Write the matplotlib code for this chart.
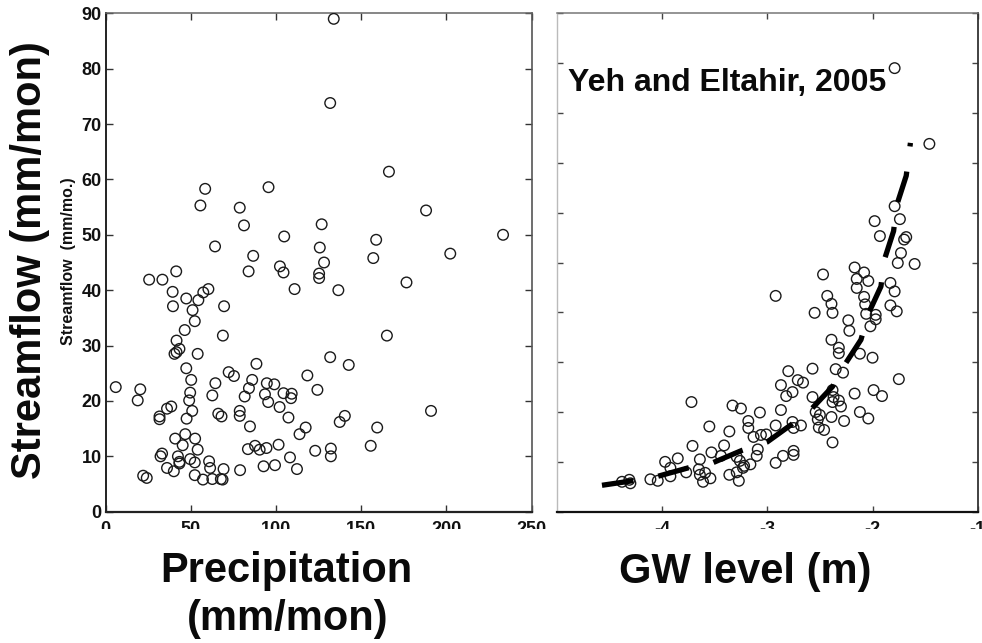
import matplotlib
matplotlib.use("Agg")
import matplotlib.pyplot as plt
from matplotlib.transforms import Bbox, TransformedBbox

# ---- data -------------------------------------------------------------
precip = [133.9, 131.8, 166.3, 58.4, 95.6, 55.6, 78.7, 188.1, 81.2, 126.8,
          233.3, 158.8, 104.8, 64.2, 125.7, 202.3, 86.6, 157.1, 128.2, 102.3,
          104.4, 83.9, 41.4, 125.3, 125.3, 25.5, 33.3, 176.6, 110.9, 136.6,
          39.3, 60.3, 57.3, 47.3, 54.4, 39.5, 69.5, 51.0, 52.3, 46.4,
          165.1, 68.8, 41.6, 43.3, 41.6, 40.4, 54.0, 131.8, 88.5, 142.7,
          47.3, 72.2, 75.3, 118.4, 50.2, 86.0, 64.4, 94.6, 99.0, 84.1,
          5.9, 20.3, 124.3, 49.6, 104.4, 109.2, 93.5, 62.6, 81.6, 108.8,
          49.0, 18.8, 95.4, 102.1, 38.5, 36.0, 191.0, 50.8, 78.7, 66.1,
          68.0, 31.6, 31.6, 78.7, 107.3, 140.4, 47.5, 137.4, 117.4, 159.4,
          84.7, 113.8, 46.7, 40.8, 52.5, 45.2, 101.5, 155.6, 87.7, 94.4,
          90.4, 54.0, 83.5, 132.2, 123.0, 33.1, 32.2, 42.4, 132.2, 108.2,
          49.6, 60.7, 43.3, 52.3, 99.4, 92.7, 61.3, 36.0, 69.2, 78.9,
          112.3, 40.0, 22.0, 24.1, 52.3, 57.1, 62.6, 67.6, 68.6, 43.3]
flow_p = [89.0, 73.8, 61.4, 58.3, 58.6, 55.3, 54.9, 54.4, 51.7, 51.9,
          50.0, 49.1, 49.7, 47.9, 47.7, 46.6, 46.2, 45.8, 45.0, 44.3,
          43.2, 43.4, 43.4, 43.0, 42.2, 41.9, 41.9, 41.4, 40.2, 40.0,
          39.7, 40.2, 39.6, 38.5, 38.2, 37.1, 37.1, 36.4, 34.4, 32.8,
          31.8, 31.8, 30.9, 29.4, 28.8, 28.5, 28.5, 27.9, 26.7, 26.5,
          25.9, 25.2, 24.5, 24.6, 23.8, 23.8, 23.2, 23.2, 23.0, 22.3,
          22.5, 22.1, 22.0, 21.5, 21.4, 21.3, 21.2, 21.0, 20.8, 20.5,
          20.1, 20.1, 19.8, 18.9, 19.0, 18.6, 18.2, 18.2, 18.2, 17.7,
          17.2, 17.2, 16.7, 17.3, 17.0, 17.3, 16.8, 16.2, 15.2, 15.2,
          15.4, 14.0, 14.0, 13.2, 13.2, 12.0, 12.1, 11.9, 11.9, 11.5,
          11.2, 11.2, 11.3, 11.4, 11.0, 10.5, 10.0, 10.0, 10.0, 9.8,
          9.5, 9.1, 9.0, 8.9, 8.4, 8.2, 7.9, 7.9, 7.7, 7.5,
          7.7, 7.3, 6.5, 6.1, 6.6, 5.8, 5.9, 5.9, 5.8, 8.7]

gw_level = [-1.79, -1.46, -1.79, -1.98, -1.74, -1.93, -1.68, -1.70, -1.73, -1.76,
            -1.60, -2.17, -2.47, -2.08, -2.15, -2.04, -2.15, -1.83, -1.79, -2.92,
            -2.43, -2.08, -2.39, -2.07, -1.83, -2.55, -2.38, -1.77, -2.06, -1.97,
            -1.97, -2.23, -2.02, -2.22, -2.39, -2.32, -2.12, -2.32, -2.00, -2.57,
            -2.35, -2.28, -2.80, -2.71, -2.66, -1.75, -2.87, -2.76, -2.82, -1.99,
            -1.91, -2.17, -2.57, -3.72, -2.38, -2.37, -2.32, -2.38, -2.30, -3.33,
            -3.25, -3.07, -2.87, -2.12, -2.04, -2.27, -2.39, -2.50, -2.54, -2.52,
            -3.18, -2.76, -2.68, -2.75, -2.51, -2.46, -3.18, -3.55, -3.36, -2.92,
            -3.06, -3.13, -3.01, -2.38, -3.71, -3.41, -3.53, -3.09, -3.10, -3.29,
            -3.44, -2.92, -2.85, -2.75, -2.75, -3.16, -3.22, -3.26, -3.64, -3.85,
            -3.97, -3.92, -3.92, -3.77, -3.65, -3.64, -3.59, -3.54, -3.61, -3.36,
            -3.29, -3.27, -3.23, -4.04, -4.11, -4.38, -4.30, -4.31]
flow_gw = [89.0, 73.8, 61.3, 58.3, 58.7, 55.3, 55.1, 54.6, 51.9, 49.9,
           49.7, 49.0, 47.6, 48.0, 46.7, 46.3, 44.9, 45.9, 44.2, 43.3,
           43.3, 43.1, 41.7, 41.6, 41.4, 39.9, 39.9, 40.2, 39.7, 39.5,
           38.6, 38.4, 37.2, 36.3, 34.5, 32.9, 31.7, 31.8, 30.9, 28.7,
           28.6, 27.9, 28.2, 26.4, 25.9, 26.6, 25.4, 24.0, 23.2, 24.4,
           23.2, 23.7, 23.0, 22.0, 24.4, 23.0, 22.3, 22.0, 21.1, 21.3,
           20.7, 19.9, 20.4, 20.0, 18.7, 18.2, 19.0, 19.4, 20.0, 18.5,
           18.2, 18.0, 17.3, 16.8, 16.9, 16.4, 16.8, 17.1, 16.1, 17.3,
           15.4, 15.0, 15.5, 13.9, 13.2, 13.3, 11.9, 12.5, 11.2, 11.0,
           11.2, 9.8, 11.2, 12.2, 11.4, 9.5, 9.2, 10.2, 10.5, 10.7,
           10.0, 8.8, 7.1, 7.9, 8.5, 7.4, 7.8, 6.7, 6.0, 7.4,
           7.9, 6.2, 8.8, 6.2, 6.5, 6.0, 5.7, 6.4]

# fitted streamflow-groundwater curve
fit_gw = [-4.57, -4.28, -4.04, -3.75, -3.52, -3.24, -3.0, -2.75, -2.58, -2.38,
          -2.27, -2.11, -2.04, -1.92, -1.89, -1.80, -1.77, -1.68, -1.64]
fit_flow = [5.3, 6.2, 7.1, 8.8, 9.8, 12.3, 14.0, 17.8, 20.6, 25.1,
            29.3, 34.5, 39.7, 45.2, 50.4, 56.3, 61.5, 67.4, 74.0]

precip_ticks = [0, 50, 100, 150, 200, 250]
precip_ticklabels = ["0", "50", "100", "150", "200", "250"]
flow_ticks = [0, 10, 20, 30, 40, 50, 60, 70, 80, 90]
flow_ticklabels = ["0", "10", "20", "30", "40", "50", "60", "70", "80", "90"]
gw_ticks = [-4, -3, -2, -1]
gw_ticklabels = ["-4", "-3", "-2", "-1"]
gw_flow_ticks = [0, 10, 20, 30, 40, 50, 60, 70, 80, 90, 100]

# ---- figure -----------------------------------------------------------
W, H = 982, 643
fig = plt.figure(figsize=(W / 100, H / 100), dpi=100)
fig.patch.set_facecolor("white")


def fx(px):
    return px / W


def fy(py):
    return 1 - py / H


ax1 = fig.add_axes([fx(105.7), fy(511.7), (531.5 - 105.7) / W, 498.4 / H])
ax2 = fig.add_axes([fx(556.7), fy(511.7), (977.8 - 556.7) / W, 498.4 / H])

tick_font = dict(family=["Liberation Sans Narrow", "Liberation Sans"],
                 weight="bold", size=13)
big_font = dict(family=["Liberation Sans", "DejaVu Sans"], weight="bold")

marker_kw = dict(marker="o", s=58, facecolors="none", edgecolors="#1a1a1a",
                 linewidths=1.0, zorder=3)

# left: streamflow vs precipitation
ax1.scatter(precip, flow_p, **marker_kw)
ax1.set_xlim(0, 250)
ax1.set_ylim(0, 90)
ax1.set_xticks(precip_ticks)
ax1.set_xticklabels(precip_ticklabels, **tick_font)
ax1.set_yticks(flow_ticks)
ax1.set_yticklabels(flow_ticklabels, **tick_font)
ax1.tick_params(direction="in", length=5, width=1.0, top=True, right=True,
                colors="#333333", labelcolor="#111111")
ax1.tick_params(axis="x", pad=6.5)
ax1.tick_params(axis="y", pad=3)
for side, col, lw in [("left", "#222222", 1.4), ("bottom", "#222222", 1.6),
                      ("top", "#666666", 1.1), ("right", "#555555", 1.2)]:
    ax1.spines[side].set_color(col)
    ax1.spines[side].set_linewidth(lw)

# right: streamflow vs groundwater level
ax2.scatter(gw_level, flow_gw, **marker_kw)
fit_line, = ax2.plot(fit_gw, fit_flow, color="black", linewidth=3.8,
                     linestyle=(0, (6, 4.8)), dash_capstyle="butt", zorder=4)
ax2.set_xlim(-5, -1)
ax2.set_ylim(0, 100)
ax2.set_xticks(gw_ticks)
ax2.set_xticklabels(gw_ticklabels, **tick_font)
ax2.set_yticks(gw_flow_ticks)
ax2.tick_params(axis="y", labelleft=False)
ax2.tick_params(direction="in", length=4, width=1.0, top=True, right=True,
                colors="#444444", labelcolor="#111111")
ax2.tick_params(axis="x", pad=6.5)
for side, col, lw in [("left", "#bbbbbb", 1.0), ("bottom", "#111111", 1.6),
                      ("top", "#777777", 1.1), ("right", "#333333", 1.3)]:
    ax2.spines[side].set_color(col)
    ax2.spines[side].set_linewidth(lw)

ax2.text(fx(568), fy(91), "Yeh and Eltahir, 2005", transform=fig.transFigure,
         ha="left", va="baseline", fontsize=23, color="#0a0a0a", **big_font)

# the x tick labels are cut off along a horizontal edge
clip = TransformedBbox(Bbox.from_extents(0, fy(529), 1, 1), fig.transFigure)
for ax in (ax1, ax2):
    for t in ax.xaxis.get_major_ticks():
        t.label1.set_clip_box(clip)
        t.label1.set_clip_on(True)

# axis titles
fig.text(fx(30), fy(260), "Streamflow (mm/mon)", rotation=90, ha="center",
         va="center", fontsize=30, color="#0a0a0a", **big_font)
fig.text(fx(68), fy(261), "Streamflow  (mm/mo.)", rotation=90, ha="center",
         va="center", fontsize=11.5, color="#111111", **big_font)
fig.text(fx(286.5), fy(582), "Precipitation", ha="center", va="baseline",
         fontsize=30, color="#0a0a0a", **big_font)
fig.text(fx(288), fy(630), "(mm/mon)", ha="center", va="baseline",
         fontsize=30, color="#0a0a0a", **big_font)
fig.text(fx(745), fy(583), "GW level (m)", ha="center", va="baseline",
         fontsize=30, color="#0a0a0a", **big_font)

fig.savefig("out.png", dpi=100, facecolor="white")
